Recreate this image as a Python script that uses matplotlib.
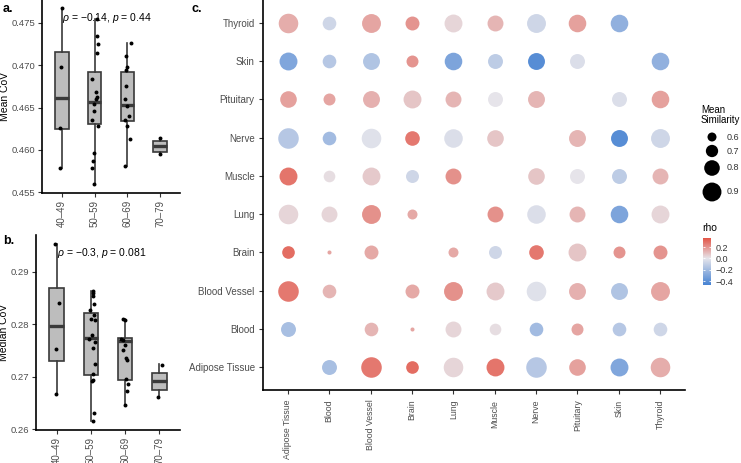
import numpy as np
import matplotlib
matplotlib.use("Agg")
import matplotlib.pyplot as plt
from matplotlib.colors import LinearSegmentedColormap, TwoSlopeNorm

plt.rcParams["font.family"] = ["Liberation Sans", "DejaVu Sans"]
plt.rcParams["mathtext.fontset"] = "custom"
plt.rcParams["mathtext.rm"] = "Liberation Sans"
plt.rcParams["mathtext.it"] = "Liberation Sans:italic"

# ---- panel a / b data (age groups) ----
age_groups = ["40\u201349", "50\u201359", "60\u201369", "70\u201379"]

# box stats: (whislo, q1, med, q3, whishi)
mean_box = [(0.4578, 0.4625, 0.4661, 0.4715, 0.4767),
            (0.4560, 0.4631, 0.4657, 0.4692, 0.4754),
            (0.4581, 0.4634, 0.4653, 0.4692, 0.4726),
            (0.4595, 0.4598, 0.4605, 0.4611, 0.4614)]
median_box = [(0.2668, 0.2731, 0.2797, 0.2870, 0.2952),
              (0.2616, 0.2703, 0.2774, 0.2821, 0.2864),
              (0.2646, 0.2694, 0.2769, 0.2774, 0.2811),
              (0.2662, 0.2676, 0.2693, 0.2708, 0.2724)]

mean_pts = [[0.4767, 0.4698, 0.4626, 0.4578],
            [0.4754, 0.4735, 0.4725, 0.4714, 0.4684, 0.4668, 0.4663, 0.4660,
             0.4654, 0.4646, 0.4635, 0.4628, 0.4596, 0.4587, 0.4579, 0.4560],
            [0.4726, 0.4711, 0.4698, 0.4694, 0.4675, 0.4660, 0.4652, 0.4640,
             0.4635, 0.4628, 0.4613, 0.4581],
            [0.4614, 0.4595]]
mean_jit = [[0.02, -0.02, -0.06, -0.04],
            [0.06, 0.08, 0.10, 0.08, -0.07, 0.05, 0.08, 0.03,
             -0.02, -0.02, -0.09, 0.09, -0.02, -0.04, -0.09, -0.01],
            [0.10, -0.05, -0.02, -0.04, -0.04, -0.08, -0.01, 0.05,
             -0.08, -0.02, 0.08, -0.07],
            [0.0, 0.0]]

median_pts = [[0.2952, 0.2841, 0.2754, 0.2668],
              [0.2864, 0.2859, 0.2853, 0.2839, 0.2827, 0.2818, 0.2811, 0.2809, 0.2779,
               0.2773, 0.2767, 0.2755, 0.2725, 0.2706, 0.2695, 0.2692, 0.2632, 0.2617],
              [0.2811, 0.2809, 0.2773, 0.2770, 0.2761, 0.2752, 0.2736, 0.2732,
               0.2696, 0.2687, 0.2674, 0.2647],
              [0.2723, 0.2662]]
median_jit = [[-0.05, 0.08, -0.02, -0.02],
              [0.07, 0.05, 0.07, 0.08, -0.02, 0.10, 0.0, 0.12, 0.02,
               -0.04, 0.12, 0.05, 0.12, 0.05, 0.05, 0.03, 0.08, 0.07],
              [-0.07, 0.01, -0.12, -0.05, 0.01, -0.05, 0.03, 0.04,
               0.03, 0.08, 0.05, 0.01],
              [0.07, -0.03]]

# ---- panel c data (tissue x tissue) ----
tissues = ["Adipose Tissue", "Blood", "Blood Vessel", "Brain", "Lung",
           "Muscle", "Nerve", "Pituitary", "Skin", "Thyroid"]
nan = np.nan
similarity = [
    [nan, .78, .95, .71, .92, .87, .95, .83, .87, .92],
    [.78, nan, .74, .45, .81, .68, .74, .69, .74, .74],
    [.95, .74, nan, .75, .90, .87, .92, .84, .84, .90],
    [.71, .45, .75, nan, .63, .72, .77, .87, .69, .75],
    [.92, .81, .90, .63, nan, .81, .89, .81, .86, .87],
    [.87, .68, .87, .72, .81, nan, .83, .78, .78, .81],
    [.95, .74, .92, .77, .89, .83, nan, .84, .84, .90],
    [.83, .69, .84, .87, .81, .78, .84, nan, .78, .86],
    [.87, .74, .84, .69, .86, .78, .84, .78, nan, .86],
    [.92, .74, .90, .75, .87, .81, .90, .86, .86, nan]]
rho = [
    [nan, -.18, .27, .30, .04, .28, -.14, .17, -.30, .14],
    [-.18, nan, .12, .16, .04, .02, -.20, .16, -.14, -.07],
    [.27, .12, nan, .15, .21, .07, -.02, .13, -.16, .16],
    [.30, .16, .15, nan, .15, -.07, .27, .08, .20, .20],
    [.04, .04, .21, .15, nan, .21, -.03, .12, -.31, .04],
    [.28, .02, .07, -.07, .21, nan, .08, .00, -.12, .12],
    [-.14, -.20, -.02, .27, -.03, .08, nan, .12, -.42, -.07],
    [.17, .16, .13, .08, .12, .00, .12, nan, -.03, .17],
    [-.30, -.14, -.16, .20, -.31, -.12, -.42, -.03, nan, -.25],
    [.14, -.07, .16, .20, .04, .12, -.07, .17, -.25, nan]]

size_breaks = [0.6, 0.7, 0.8, 0.9]
rho_ticks = [-0.4, -0.2, 0.0, 0.2]
rho_lo, rho_hi = -0.47, 0.36

W, H = 741, 463
fig = plt.figure(figsize=(W / 100, H / 100), dpi=100)


def px_axes(x0, y0, x1, y1):
    return fig.add_axes([x0 / W, 1 - y1 / H, (x1 - x0) / W, (y1 - y0) / H])


def sim_size(v):
    d = 9 + 33 * (np.asarray(v) - 0.6)   # diameter in px
    return (d * 0.72) ** 2


def style_axis(ax):
    for s in ["top", "right"]:
        ax.spines[s].set_visible(False)
    for s in ["left", "bottom"]:
        ax.spines[s].set_linewidth(1.2)
    ax.tick_params(length=3, width=0.8, color="#333333",
                   labelcolor="#4D4D4D", labelsize=7, pad=2)


def box_panel(ax, boxes, pts, jit, ylim, label, ann, ann_y):
    stats = [dict(whislo=b[0], q1=b[1], med=b[2], q3=b[3], whishi=b[4], fliers=[])
             for b in boxes]
    ax.bxp(stats, positions=range(1, 5), widths=0.42, patch_artist=True,
           boxprops=dict(facecolor="#BDBDBD", edgecolor="#3A3A3A", linewidth=1.2),
           medianprops=dict(color="#3A3A3A", linewidth=2.4),
           whiskerprops=dict(color="#3A3A3A", linewidth=1.2),
           capprops=dict(linewidth=0), showcaps=False)
    for i, (p, j) in enumerate(zip(pts, jit)):
        ax.scatter(np.full(len(p), i + 1.0) + np.array(j), p, s=8, color="black",
                   zorder=5, linewidths=0)
    ax.set_xlim(0.4, 4.6)
    ax.set_ylim(*ylim)
    ax.set_xticks(range(1, 5))
    ax.set_xticklabels(age_groups, rotation=90)
    ax.set_ylabel(label, fontsize=7.5, labelpad=1)
    ax.text(1, ann_y, ann, fontsize=7.5, va="center", ha="left")
    style_axis(ax)


ax_a = px_axes(42, 0, 180, 193)
box_panel(ax_a, mean_box, mean_pts, mean_jit, (0.4549, 0.4777), "Mean CoV",
          "$\\rho$ = \u22120.14, $p$ = 0.44", 0.4756)
ax_a.set_yticks([0.455, 0.460, 0.465, 0.470, 0.475])
ax_a.tick_params(axis="y", labelsize=6.8)

ax_b = px_axes(36, 235, 180, 430)
box_panel(ax_b, median_box, median_pts, median_jit, (0.2599, 0.2970), "Median CoV",
          "$\\rho$ = \u22120.3, $p$ = 0.081", 0.2936)
ax_b.set_yticks([0.26, 0.27, 0.28, 0.29])
ax_b.tick_params(axis="y", labelsize=6.8)

# ---- panel c ----
ax_c = px_axes(263, 0, 685, 390)
cmap = LinearSegmentedColormap.from_list("rho", ["#4783D3", "#E6E5EB", "#E35547"])
norm = TwoSlopeNorm(vmin=rho_lo, vcenter=0, vmax=rho_hi)
rho_arr = np.array(rho)
sim_arr = np.array(similarity)
n = len(tissues)
for i in range(n):
    for j in range(n):
        if np.isnan(rho_arr[i, j]):
            continue
        ax_c.scatter(j, i, s=sim_size(sim_arr[i, j]), color=cmap(norm(rho_arr[i, j])),
                     linewidths=0)
ax_c.set_xlim(-0.6, n - 0.4)
ax_c.set_ylim(-0.6, n - 0.4)
ax_c.set_xticks(range(n))
ax_c.set_xticklabels(tissues, rotation=90)
ax_c.set_yticks(range(n))
ax_c.set_yticklabels(tissues)
style_axis(ax_c)
ax_c.tick_params(axis="x", pad=4, labelsize=6.3)
ax_c.tick_params(axis="y", pad=3)

# panel labels
fig.text(3 / W, 1 - 9 / H, "a.", fontsize=9, fontweight="bold", va="center")
fig.text(3 / W, 1 - 241 / H, "b.", fontsize=9, fontweight="bold", va="center")
fig.text(192 / W, 1 - 9 / H, "c.", fontsize=9, fontweight="bold", va="center")

# ---- size legend ----
lax = fig.add_axes([0, 0, 1, 1])
lax.set_xlim(0, W)
lax.set_ylim(H, 0)
lax.axis("off")
lax.text(701, 115, "Mean\nSimilarity", fontsize=7, va="center", ha="left",
         linespacing=1.1)
leg_y = [137, 151, 168, 192]
lax.scatter([712] * 4, leg_y, s=sim_size(size_breaks), color="black", linewidths=0)
for yy, b in zip(leg_y, size_breaks):
    lax.text(727, yy, f"{b:.1f}", fontsize=6.5, va="center", ha="left", color="#333333")
lax.text(702, 228, "rho", fontsize=7.5, va="center", ha="left")

# ---- colour bar ----
cax = px_axes(703, 238, 711, 285)
grad = np.linspace(rho_lo, rho_hi, 200).reshape(-1, 1)
cax.imshow(grad, cmap=cmap, norm=norm, aspect="auto", origin="lower",
           extent=[0, 1, rho_lo, rho_hi])
cax.set_xticks([])
cax.yaxis.tick_right()
cax.set_yticks(rho_ticks)
cax.set_yticklabels([f"{t:.1f}".replace("-", "\u2212") for t in rho_ticks])
cax.tick_params(axis="y", length=0, labelsize=6.5, pad=3, labelcolor="#333333")
cax.hlines(rho_ticks, 0, 0.2, color="white", linewidth=0.6)
cax.hlines(rho_ticks, 0.8, 1, color="white", linewidth=0.6)
for s in cax.spines.values():
    s.set_visible(False)

fig.savefig("out.png", dpi=100)
